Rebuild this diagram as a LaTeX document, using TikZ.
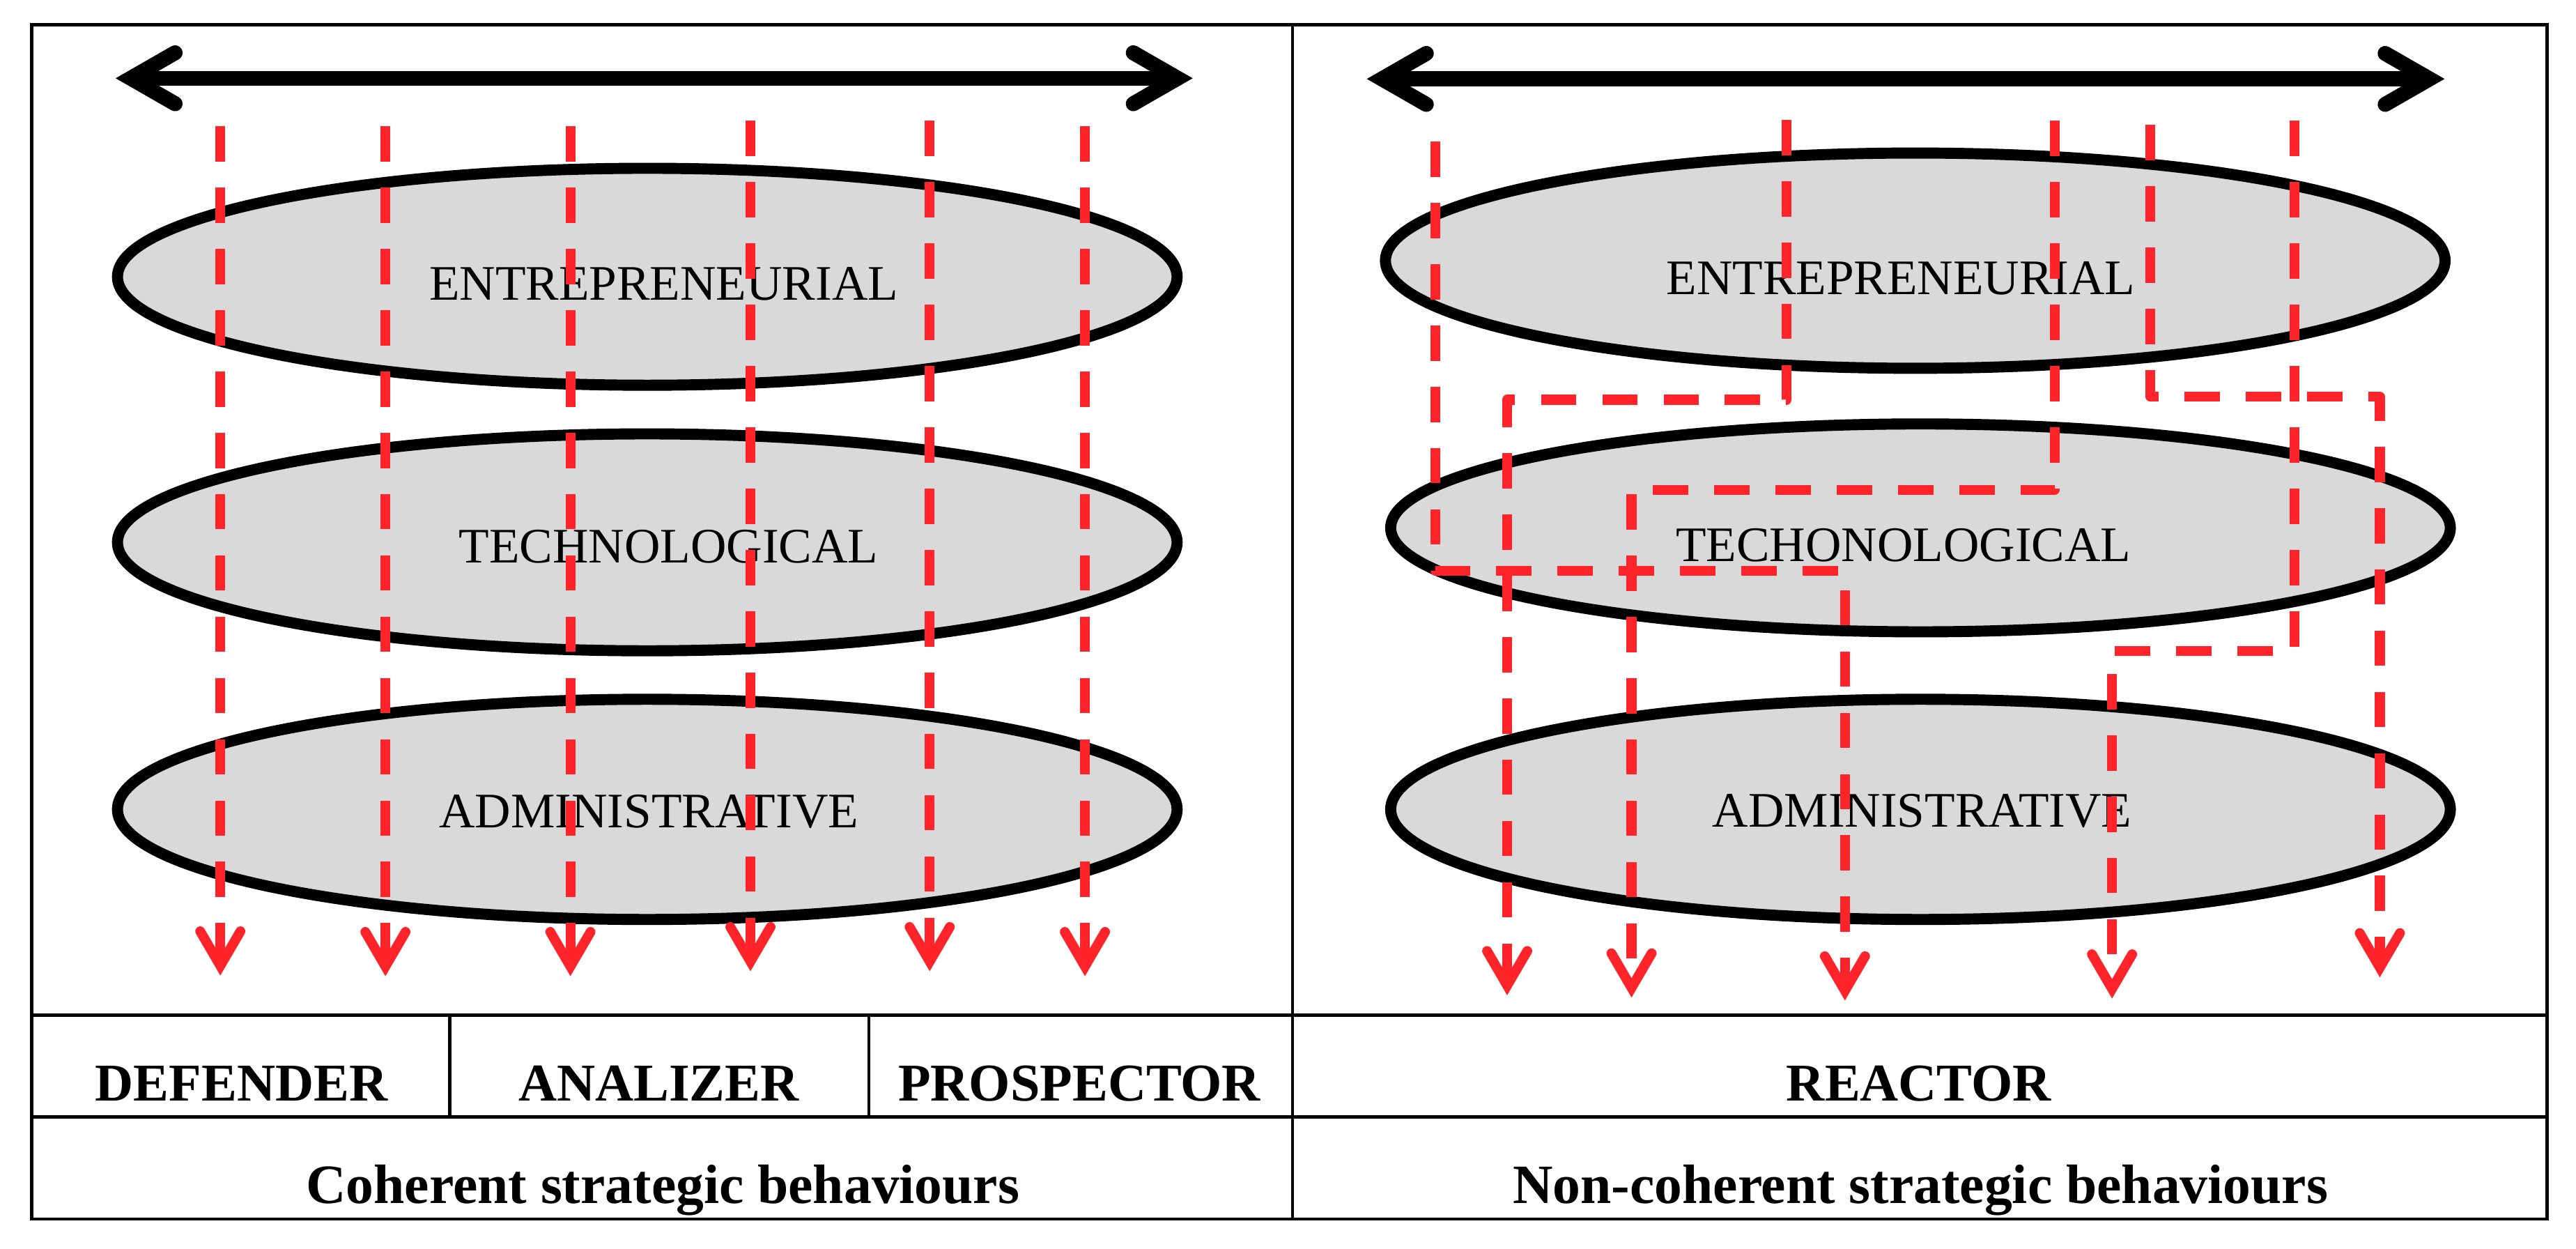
\documentclass[tikz,border=0pt]{standalone}
\usepackage{fontspec}
\setmainfont{Liberation Serif}
\usetikzlibrary{arrows.meta, shapes.geometric}

\definecolor{flowred}{RGB}{255,36,42}
\definecolor{layergray}{RGB}{217,217,217}

\tikzset{
  layer/.style={ellipse, draw, line width=1.92pt, fill=layergray, minimum width=6.45cm, minimum height=1.32cm, inner sep=0pt},
  lbl/.style={font=\fontsize{8.6}{10}\selectfont, inner sep=0pt, anchor=base},
  kind/.style={font=\bfseries\fontsize{9.2}{11}\selectfont, inner sep=0pt, anchor=base},
  span/.style={line width=2.6pt, {Straight Barb[length=0.27cm, width=0.31cm, line cap=round]}-{Straight Barb[length=0.27cm, width=0.31cm, line cap=round]}},
  flow/.style={flowred, line width=1.7pt, line join=round, dash pattern=on 0.215cm off 0.158cm, -{Straight Barb[length=0.21cm, width=0.245cm, line cap=round]}},
}

\begin{document}
\begin{tikzpicture}[x=0.1mm, y=-0.1mm]
  \useasboundingbox (0,0) rectangle (1568,760);

  \draw[line width=0.55pt] (19.4,15) rectangle (1550.5,741.7);
  \draw[line width=0.55pt] (786.8,15) -- (786.8,741.7);
  \draw[line width=0.55pt] (19.4,617.8) -- (1550.5,617.8);
  \draw[line width=0.55pt] (19.4,679.7) -- (1550.5,679.7);
  \draw[line width=0.55pt] (273.7,617.8) -- (273.7,679.7);
  \draw[line width=0.55pt] (528.8,617.8) -- (528.8,679.7);

  \node[layer] (entL) at (394,168.4) {};
  \node[layer] (tecL) at (394,330) {};
  \node[layer, minimum height=1.34cm] (admL) at (394,492.5) {};
  \node[layer, minimum height=1.31cm] (entR) at (1165.8,158.6) {};
  \node[layer, minimum height=1.265cm] (tecR) at (1169,321.2) {};
  \node[layer, minimum height=1.34cm] (admR) at (1169,492.5) {};

  \node[lbl] (entLt) at (404,182.6) {ENTREPRENEURIAL};
  \node[lbl] (tecLt) at (407,342.6) {TECHNOLOGICAL};
  \node[lbl] (admLt) at (395,503.7) {ADMINISTRATIVE};
  \node[lbl] (entRt) at (1157,179.3) {ENTREPRENEURIAL};
  \node[lbl] (tecRt) at (1158.6,341.5) {TECHONOLOGICAL};
  \node[lbl] (admRt) at (1170,503.3) {ADMINISTRATIVE};

  \node[kind] (def) at (147,669.7) {DEFENDER};
  \node[kind] (ana) at (401,669.7) {ANALIZER};
  \node[kind] (pro) at (657,669.7) {PROSPECTOR};
  \node[kind] (rea) at (1168,669.7) {REACTOR};
  \node[kind, font=\bfseries\fontsize{9.6}{11}\selectfont] (coh) at (403.5,732.2) {Coherent strategic behaviours};
  \node[kind, font=\bfseries\fontsize{9.6}{11}\selectfont] (non) at (1169,732.2) {Non-coherent strategic behaviours};

  \coordinate (sL) at (70.4,47.6); \coordinate (eL) at (726,47.6);
  \coordinate (sR) at (832,48); \coordinate (eR) at (1488,48);
  \draw[span] (sL) -- (eL);
  \draw[span] (sR) -- (eR);

  \foreach \x/\ya/\yb [count=\i] in {134.1/76.8/593.6, 234.6/76.8/594, 347.2/76.8/594, 456.8/73.5/591, 565.9/73.5/591, 660.4/76.8/594}{
    \coordinate (c\i) at (\x,\ya);
    \coordinate (d\i) at (\x,\yb);
    \draw[flow] (c\i) -- (d\i);
  }

  \foreach \x/\ya/\yb/\xc/\yc [count=\i] in {873.8/86.1/347.5/1123/608.8, 1087.6/72.9/243.2/917.4/605.6, 1250.8/73.5/298/993.1/607, 1308.8/75.9/241.4/1448.6/594.7, 1396.6/73.5/396/1285.6/607.6}{
    \coordinate (r\i) at (\x,\ya);
    \coordinate (k\i) at (\x,\yb);
    \coordinate (t\i) at (\xc,\yc);
    \draw[flow] (r\i) -- (k\i) -| (t\i);
  }
\end{tikzpicture}
\end{document}
